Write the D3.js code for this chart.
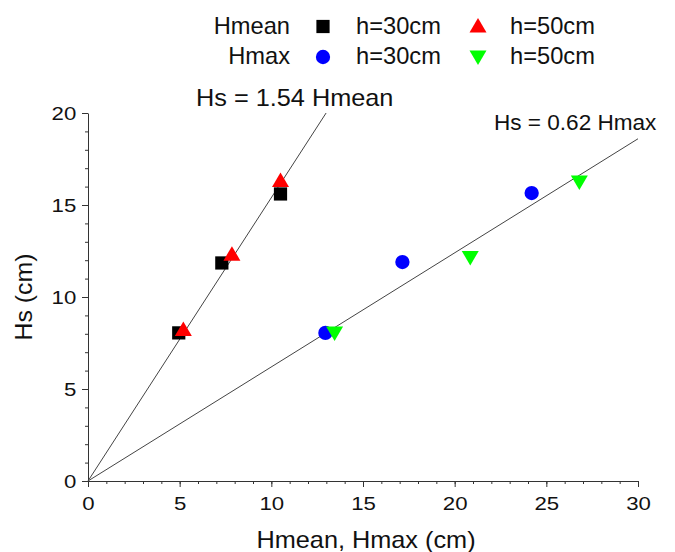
<!DOCTYPE html>
<html lang="en">
<head>
<meta charset="utf-8">
<title>Hs vs Hmean, Hmax</title>
<script src="https://cdn.jsdelivr.net/npm/d3@7"></script>
<style>
  body { margin: 0; background: #fff; }
  text { font-family: "Liberation Sans", Arial, sans-serif; fill: #111; }
</style>
</head>
<body>
<script>
// data
var hmean30 = [[4.95, 8.05], [7.3, 11.85], [10.5, 15.6]];
var hmean50 = [[5.2, 8.2], [7.85, 12.3], [10.5, 16.3]];
var hmax30 = [[12.95, 8.05], [17.15, 11.9], [24.2, 15.65]];
var hmax50 = [[13.45, 8.05], [20.85, 12.15], [26.8, 16.25]];
var fits = [{k: 1.54, label: "Hs = 1.54 Hmean"}, {k: 0.62, label: "Hs = 0.62 Hmax"}];
var xTicks = [0, 5, 10, 15, 20, 25, 30];
var yTicks = [0, 5, 10, 15, 20];

var W = 675, H = 552;
var svg = d3.select("body").append("svg").attr("width", W).attr("height", H);

var x = d3.scaleLinear().domain([0, 30]).range([88, 638]);
var y = d3.scaleLinear().domain([0, 20]).range([481, 113]);

// the original text is a bit wider than Arial, so stretch it sideways
function label(px, py, str, size, sx, anchor) {
  return svg.append("text")
    .attr("transform", "translate(" + px + "," + py + ") scale(" + sx + ",1)")
    .attr("text-anchor", anchor || "start")
    .style("font-size", size + "px")
    .text(str);
}

// minor ticks
svg.append("g").attr("transform", "translate(0,481)")
  .call(d3.axisBottom(x).ticks(30).tickSize(3).tickFormat(""))
  .call(g => g.select(".domain").remove())
  .selectAll("line").attr("stroke", "#333");
svg.append("g").attr("transform", "translate(88,0)")
  .call(d3.axisLeft(y).ticks(20).tickSize(3).tickFormat(""))
  .call(g => g.select(".domain").remove())
  .selectAll("line").attr("stroke", "#333");

// major ticks + labels
var xa = svg.append("g").attr("transform", "translate(0,481)")
  .call(d3.axisBottom(x).tickValues(xTicks).tickSize(6).tickSizeOuter(0).tickPadding(10));
var ya = svg.append("g").attr("transform", "translate(88,0)")
  .call(d3.axisLeft(y).tickValues(yTicks).tickSize(6).tickSizeOuter(0).tickPadding(4));
[xa, ya].forEach(function(a) {
  a.selectAll("path, line").attr("stroke", "#333");
  a.selectAll("text").style("font-size", "19px").attr("fill", "#111")
    .style("font-family", "'Liberation Sans', Arial, sans-serif")
    .attr("transform", "scale(1.17,1)");
});

// axis titles
label(366, 548, "Hmean, Hmax (cm)", 23, 1.1, "middle");
svg.append("text").attr("transform", "translate(32,297) rotate(-90) scale(1.08,1)")
  .attr("text-anchor", "middle").style("font-size", "23px").text("Hs (cm)");

// fitted lines Hs = k*H through the origin
fits.forEach(function(f) {
  var xEnd = Math.min(30, 20 / f.k);
  svg.append("line")
    .attr("x1", x(0)).attr("y1", y(0))
    .attr("x2", x(xEnd)).attr("y2", y(f.k * xEnd))
    .attr("stroke", "#444").attr("stroke-width", 1);
});
label(196, 106, fits[0].label, 23, 1.1);
label(494, 130, fits[1].label, 21.5, 1.05);

// markers
var sq = d3.symbol().type(d3.symbolSquare).size(175);
var circ = d3.symbol().type(d3.symbolCircle).size(160);
var upPath = "M0,-8.5 L-8.5,6 L8.5,6 Z";
var down = "M0,8 L-8.5,-6.5 L8.5,-6.5 Z";

function plot(data, shape, color) {
  svg.append("g").selectAll("path").data(data).enter().append("path")
    .attr("transform", d => "translate(" + x(d[0]) + "," + y(d[1]) + ")")
    .attr("d", shape).attr("fill", color);
}
plot(hmean30, sq, "#000");
plot(hmean50, upPath, "#ff0000");
plot(hmax30, circ, "#0000ff");
plot(hmax50, down, "#00ff00");

// legend
var rows = [
  {name: "Hmean", y: 34, my: 26.5, a: sq, ac: "#000", b: upPath, bc: "#ff0000"},
  {name: "Hmax", y: 64, my: 57, a: circ, ac: "#0000ff", b: down, bc: "#00ff00"}
];
rows.forEach(function(r) {
  label(290, r.y, r.name, 23, 1.03, "end");
  svg.append("path").attr("transform", "translate(323," + r.my + ")").attr("d", r.a).attr("fill", r.ac);
  label(356, r.y, "h=30cm", 23, 1.03);
  svg.append("path").attr("transform", "translate(478," + r.my + ")").attr("d", r.b).attr("fill", r.bc);
  label(510, r.y, "h=50cm", 23, 1.03);
});
</script>
</body>
</html>
